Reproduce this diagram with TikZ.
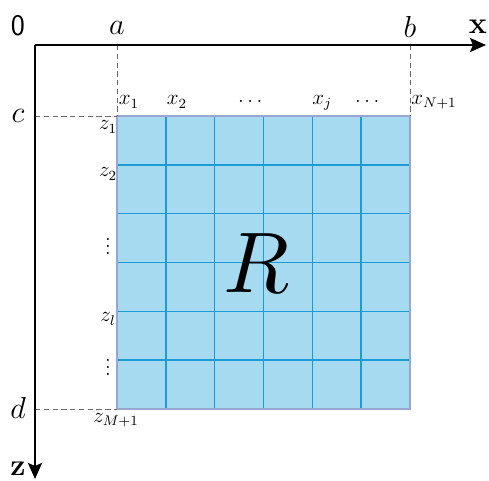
\documentclass[tikz,border=0pt]{standalone}
\usepackage{amsmath,amssymb}
\usepackage{graphicx}
\usetikzlibrary{arrows.meta}
\definecolor{celula}{HTML}{A6DAF0}
\definecolor{grade}{HTML}{1E9AD6}
\definecolor{borda}{HTML}{9AA5D2}
\definecolor{guiacor}{HTML}{6A6A6A}

\begin{document}
\begin{tikzpicture}[x=0.02cm, y=-0.02cm,
  eixo/.style={-{Stealth[length=3.2mm, width=2.8mm, inset=0.6mm]}, line width=1.5pt},
  guia/.style={draw=guiacor, dash pattern=on 3pt off 2pt, line width=0.5pt},
  rotulo/.style={font=\fontsize{16}{18}\selectfont, inner sep=0pt},
  indice/.style={font=\fontsize{12}{13}\selectfont, inner sep=0pt}
]
\useasboundingbox (0,0) rectangle (489,480);
% eixos
\coordinate (O) at (35,45);
\coordinate (xfim) at (486,45);
\coordinate (zfim) at (35,479);
% cantos da regiao
\coordinate (A) at (117,116);
\coordinate (B) at (410,116);
\coordinate (C) at (117,409);
\coordinate (D) at (410,409);
\coordinate (pa) at (117,45);
\coordinate (pb) at (410,45);
\coordinate (pc) at (35,116);
\coordinate (pd) at (35,409);
% regiao R
\fill[celula] (A) rectangle (D);
\foreach \k in {1,...,5} {
  \draw[grade, line width=0.9pt] (117+48.83*\k,116) -- (117+48.83*\k,409);
  \draw[grade, line width=0.9pt] (117,116+48.83*\k) -- (410,116+48.83*\k);
}
\draw[borda, line width=1.6pt] (A) rectangle (D);
\node[inner sep=0pt] (R) at (257,263) {\scalebox{4.9}{$R$}};
% linhas guia
\draw[guia] (pa) -- (A);
\draw[guia] (pb) -- (B);
\draw[guia] (pc) -- (A);
\draw[guia] (pd) -- (C);
\draw[eixo] (O) -- (xfim);
\draw[eixo] (O) -- (zfim);
% rotulos
\node[font=\fontsize{17}{18}\sffamily] (zero) at (18,26) {0};
\node[rotulo] (la) at (117,28) {$a$};
\node[rotulo] (lb) at (410,27) {$b$};
\node[rotulo] (lx) at (478,27) {$\mathbf{x}$};
\node[rotulo] (lc) at (18,116) {$c$};
\node[rotulo] (ld) at (18,408) {$d$};
\node[rotulo] (lz) at (18,469) {$\mathbf{z}$};
% indices x
\node[indice] (x1) at (129,102) {$x_{1}$};
\node[indice] (x2) at (177,102) {$x_{2}$};
\node[indice] (xd1) at (252,101) {$\dots$};
\node[indice] (xj) at (322,103) {$x_{j}$};
\node[indice] (xd2) at (369,101) {$\dots$};
\node[indice] (xN) at (434,102) {$x_{N+1}$};
% indices z
\node[indice] (z1) at (108,127) {$z_{1}$};
\node[indice] (z2) at (108,174) {$z_{2}$};
\node[indice] (zd1) at (108,241) {$\vdots$};
\node[indice] (zl) at (108,319) {$z_{l}$};
\node[indice] (zd2) at (108,362) {$\vdots$};
\node[indice] (zM) at (116,420) {$z_{M+1}$};
\end{tikzpicture}
\end{document}
